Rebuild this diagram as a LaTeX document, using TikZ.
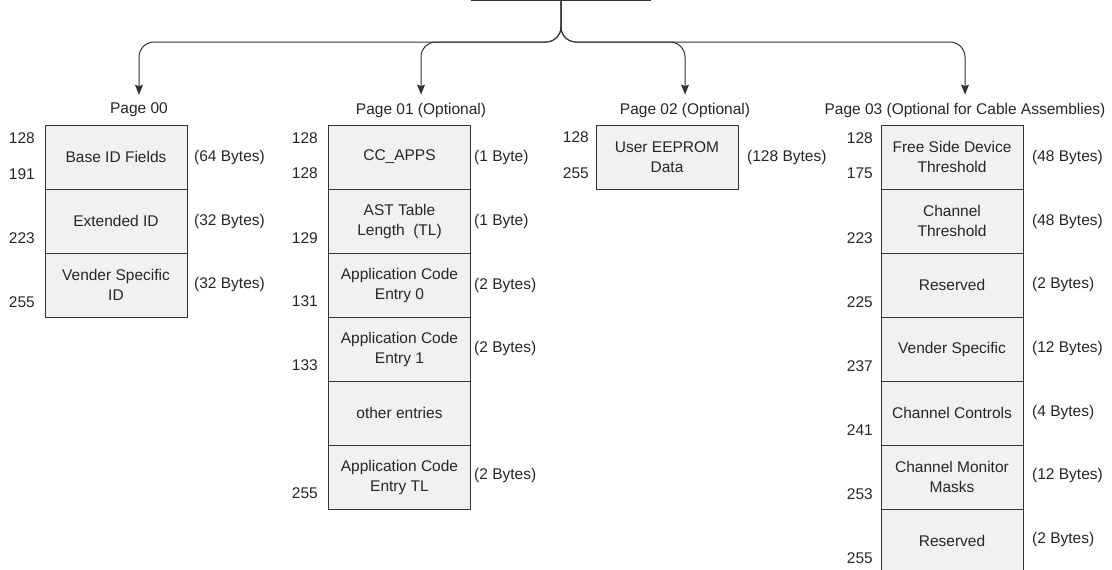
\documentclass[tikz,border=0pt]{standalone}
\usepackage{fontspec}
\setmainfont{Liberation Sans}
\usetikzlibrary{positioning,arrows.meta}

\definecolor{cellgray}{HTML}{F1F1F1}
\definecolor{inkgray}{HTML}{333333}

\tikzset{
  txt/.style={text=black!85, font=\fontsize{15.5}{20}\selectfont},
  cell/.style={txt, draw=inkgray, fill=cellgray, line width=1pt, minimum width=142pt,
    minimum height=64pt, inner sep=0pt, outer sep=0pt, align=center},
  rootbox/.style={draw=inkgray, line width=1.2pt, minimum width=178pt, minimum height=30pt},
  addr/.style={txt, anchor=east, inner sep=1pt},
  bytes/.style={txt, anchor=west, inner sep=1pt},
  pagelbl/.style={txt, inner sep=2pt},
  link/.style={draw=inkgray, line width=1pt, rounded corners=15pt,
    -{Stealth[length=10pt,width=8pt,inset=1.5pt]}, shorten >=6pt},
}

\begin{document}
\begin{tikzpicture}[x=1pt,y=-1pt]
  \useasboundingbox (0,0) rectangle (1112,570);

  % Top level map (cut off at the top edge)
  \node[rootbox, anchor=south] (root) at (561,1) {};
  \coordinate (bus) at (561,42);

  % Page titles
  \node[pagelbl] (p00) at (139,110) {Page 00};
  \node[pagelbl] (p01) at (421,110) {Page 01 (Optional)};
  \node[pagelbl] (p02) at (685,110) {Page 02 (Optional)};
  \node[pagelbl] (p03) at (965,110) {Page 03 (Optional for Cable Assemblies)};

  % Arrows
  \draw[link] (root.south) |- (bus -| p00.north) -- (p00.north);
  \draw[link] (root.south) |- (bus -| p01.north) -- (p01.north);
  \draw[link] (root.south) |- (bus -| p02.north) -- (p02.north);
  \draw[link] (root.south) |- (bus -| p03.north) -- (p03.north);

  % Page 00
  \node[cell, anchor=north] (p00a) at (116,125) {Base ID Fields};
  \node[cell, below=0pt of p00a] (p00b) {Extended ID};
  \node[cell, below=0pt of p00b] (p00c) {Vender Specific\\ID};
  \node[addr] at (36,138) {128};
  \node[addr] at (36,174) {191};
  \node[addr] at (36,238) {223};
  \node[addr] at (36,302) {255};
  \node[bytes] at (193,157) {(64 Bytes)};
  \node[bytes] at (193,221) {(32 Bytes)};
  \node[bytes] at (193,284) {(32 Bytes)};

  % Page 01
  \node[cell, anchor=north] (p01a) at (399.5,125) {CC\_APPS};
  \node[cell, below=0pt of p01a] (p01b) {AST Table\\Length\ \ (TL)};
  \node[cell, below=0pt of p01b] (p01c) {Application Code\\Entry 0};
  \node[cell, below=0pt of p01c] (p01d) {Application Code\\Entry 1};
  \node[cell, below=0pt of p01d] (p01e) {other entries};
  \node[cell, below=0pt of p01e] (p01f) {Application Code\\Entry TL};
  \node[addr] at (319,138) {128};
  \node[addr] at (319,173) {128};
  \node[addr] at (319,238) {129};
  \node[addr] at (319,301) {131};
  \node[addr] at (319,365) {133};
  \node[addr] at (319,493) {255};
  \node[bytes] at (473,157) {(1 Byte)};
  \node[bytes] at (473,221) {(1 Byte)};
  \node[bytes] at (473,285) {(2 Bytes)};
  \node[bytes] at (473,348) {(2 Bytes)};
  \node[bytes] at (473,475) {(2 Bytes)};

  % Page 02
  \node[cell, anchor=north] (p02a) at (667,125) {User EEPROM\\Data};
  \node[addr] at (590,137) {128};
  \node[addr] at (590,173) {255};
  \node[bytes] at (746,157) {(128 Bytes)};

  % Page 03
  \node[cell, anchor=north] (p03a) at (952,125) {Free Side Device\\Threshold};
  \node[cell, below=0pt of p03a] (p03b) {Channel\\Threshold};
  \node[cell, below=0pt of p03b] (p03c) {Reserved};
  \node[cell, below=0pt of p03c] (p03d) {Vender Specific};
  \node[cell, below=0pt of p03d] (p03e) {Channel Controls};
  \node[cell, below=0pt of p03e] (p03f) {Channel Monitor\\Masks};
  \node[cell, below=0pt of p03f] (p03g) {Reserved};
  \node[addr] at (874,138) {128};
  \node[addr] at (874,173) {175};
  \node[addr] at (874,238) {223};
  \node[addr] at (874,302) {225};
  \node[addr] at (874,366) {237};
  \node[addr] at (874,430) {241};
  \node[addr] at (874,494) {253};
  \node[addr] at (874,558) {255};
  \node[bytes] at (1031,157) {(48 Bytes)};
  \node[bytes] at (1031,221) {(48 Bytes)};
  \node[bytes] at (1031,284) {(2 Bytes)};
  \node[bytes] at (1031,348) {(12 Bytes)};
  \node[bytes] at (1031,412) {(4 Bytes)};
  \node[bytes] at (1031,475) {(12 Bytes)};
  \node[bytes] at (1031,539) {(2 Bytes)};
\end{tikzpicture}
\end{document}
